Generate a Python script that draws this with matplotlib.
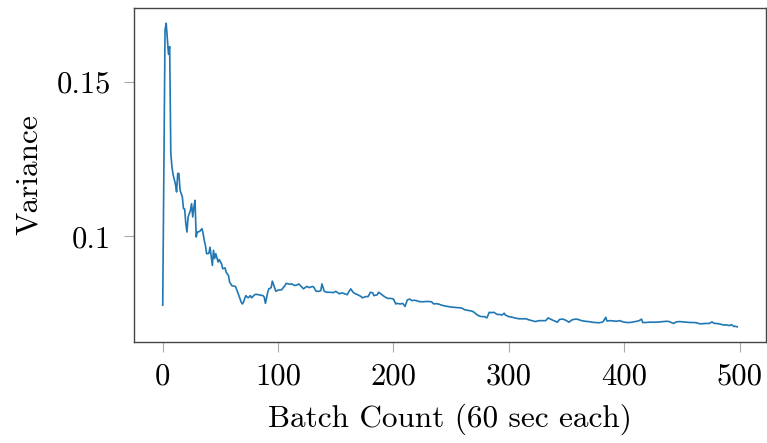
import matplotlib
matplotlib.use("Agg")
import matplotlib.pyplot as plt

plt.rcParams["font.family"] = ["cmr10", "DejaVu Serif"]
plt.rcParams["mathtext.fontset"] = "cm"
plt.rcParams["axes.formatter.use_mathtext"] = True

# Variance per batch (10 values per row in both lists)
batch = [0, 2, 3, 4, 5, 6, 7, 8, 9, 11,
         12, 13, 14, 15, 17, 18, 19, 20, 21, 22,
         24, 25, 26, 27, 28, 29, 30, 32, 34, 35,
         36, 37, 38, 40, 41, 43, 44, 45, 46, 48,
         49, 51, 52, 54, 55, 57, 58, 60, 63, 65,
         66, 68, 69, 70, 72, 74, 76, 77, 80, 82,
         84, 87, 88, 89, 91, 92, 94, 95, 96, 98,
         100, 103, 106, 107, 110, 112, 114, 116, 118, 120,
         122, 123, 125, 127, 130, 131, 133, 135, 137, 138,
         140, 142, 145, 148, 150, 153, 155, 157, 160, 161,
         163, 165, 167, 169, 172, 173, 176, 178, 180, 182,
         183, 186, 187, 189, 191, 193, 195, 198, 200, 202,
         203, 206, 208, 210, 212, 214, 216, 218, 220, 222,
         225, 228, 231, 233, 235, 237, 239, 241, 244, 247,
         250, 253, 256, 259, 262, 265, 268, 270, 272, 275,
         277, 279, 281, 283, 285, 287, 290, 292, 294, 296,
         297, 300, 303, 306, 309, 312, 315, 317, 320, 323,
         326, 329, 332, 334, 336, 339, 342, 344, 347, 350,
         352, 355, 358, 360, 363, 366, 369, 372, 375, 378,
         381, 382, 384, 385, 388, 391, 393, 396, 399, 402,
         405, 408, 411, 413, 415, 416, 419, 422, 425, 428,
         431, 434, 437, 439, 442, 443, 445, 448, 451, 454,
         457, 460, 463, 465, 468, 471, 474, 476, 478, 480,
         483, 486, 489, 491, 493, 495, 496, 498]
variance = [0.0777, 0.1669, 0.1691, 0.1640, 0.1590, 0.1615, 0.1270, 0.1225, 0.1200, 0.1170,
            0.1144, 0.1204, 0.1204, 0.1150, 0.1128, 0.1090, 0.1089, 0.1042, 0.1014, 0.1063,
            0.1084, 0.1106, 0.1063, 0.1095, 0.1117, 0.0998, 0.1014, 0.1016, 0.1025, 0.1010,
            0.0987, 0.0971, 0.0944, 0.0945, 0.0965, 0.0906, 0.0955, 0.0928, 0.0944, 0.0917,
            0.0925, 0.0911, 0.0895, 0.0898, 0.0884, 0.0873, 0.0852, 0.0840, 0.0838, 0.0819,
            0.0808, 0.0787, 0.0781, 0.0787, 0.0808, 0.0801, 0.0808, 0.0801, 0.0812, 0.0812,
            0.0810, 0.0808, 0.0803, 0.0783, 0.0819, 0.0830, 0.0834, 0.0855, 0.0845, 0.0822,
            0.0826, 0.0827, 0.0841, 0.0848, 0.0845, 0.0846, 0.0841, 0.0842, 0.0846, 0.0838,
            0.0830, 0.0833, 0.0838, 0.0834, 0.0838, 0.0835, 0.0822, 0.0822, 0.0824, 0.0846,
            0.0822, 0.0819, 0.0819, 0.0818, 0.0822, 0.0814, 0.0817, 0.0815, 0.0811, 0.0819,
            0.0830, 0.0819, 0.0814, 0.0811, 0.0805, 0.0801, 0.0805, 0.0805, 0.0819, 0.0817,
            0.0808, 0.0811, 0.0819, 0.0814, 0.0808, 0.0803, 0.0799, 0.0799, 0.0797, 0.0781,
            0.0783, 0.0781, 0.0783, 0.0773, 0.0794, 0.0797, 0.0792, 0.0793, 0.0792, 0.0789,
            0.0788, 0.0789, 0.0789, 0.0788, 0.0781, 0.0782, 0.0781, 0.0778, 0.0775, 0.0773,
            0.0771, 0.0770, 0.0769, 0.0768, 0.0762, 0.0760, 0.0758, 0.0754, 0.0747, 0.0741,
            0.0740, 0.0740, 0.0736, 0.0754, 0.0753, 0.0754, 0.0747, 0.0747, 0.0745, 0.0751,
            0.0745, 0.0740, 0.0738, 0.0735, 0.0733, 0.0733, 0.0733, 0.0730, 0.0727, 0.0724,
            0.0727, 0.0727, 0.0727, 0.0736, 0.0732, 0.0727, 0.0722, 0.0731, 0.0732, 0.0727,
            0.0722, 0.0730, 0.0732, 0.0731, 0.0727, 0.0725, 0.0724, 0.0722, 0.0721, 0.0720,
            0.0722, 0.0725, 0.0738, 0.0726, 0.0727, 0.0726, 0.0725, 0.0727, 0.0723, 0.0721,
            0.0721, 0.0723, 0.0725, 0.0727, 0.0732, 0.0721, 0.0721, 0.0722, 0.0722, 0.0722,
            0.0723, 0.0724, 0.0725, 0.0724, 0.0719, 0.0718, 0.0723, 0.0724, 0.0723, 0.0722,
            0.0721, 0.0721, 0.0720, 0.0717, 0.0717, 0.0718, 0.0718, 0.0723, 0.0718, 0.0718,
            0.0716, 0.0713, 0.0713, 0.0711, 0.0714, 0.0708, 0.0709, 0.0707]

xticks = [0, 100, 200, 300, 400, 500]
yticks = [0.1, 0.15]
ytick_labels = ["0.1", "0.15"]

fig = plt.figure(figsize=(7.67, 4.43), dpi=100)
ax = fig.add_axes([134 / 767, 101 / 443, 632 / 767, 334 / 443])

ax.plot(batch, variance, color="#1f77b4", lw=1.2)

ax.set_xticks(xticks)
ax.set_xticklabels([str(t) for t in xticks])
ax.set_yticks(yticks)
ax.set_yticklabels(ytick_labels)
ax.margins(x=0.05, y=0.05)

for s in ax.spines.values():
    s.set_color("#444444")
    s.set_linewidth(1.0)
ax.tick_params(axis="both", direction="out", length=7.5, width=0.8,
               color="#aaaaaa", labelsize=22)
ax.tick_params(axis="x", pad=8)
ax.tick_params(axis="y", pad=9)

ax.set_xlabel("Batch Count (60 sec each)", fontsize=22.5, labelpad=9)
ax.set_ylabel("Variance", fontsize=22.5, labelpad=10)

fig.savefig("out.png", dpi=100)
